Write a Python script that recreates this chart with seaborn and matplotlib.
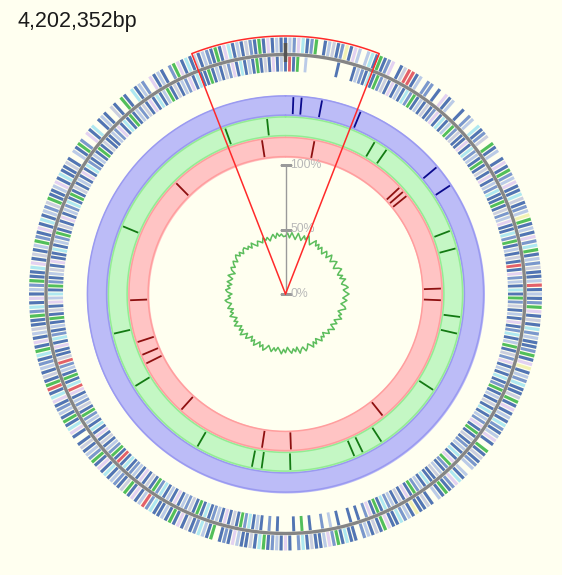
import numpy as np
import matplotlib
matplotlib.use("Agg")
import matplotlib.pyplot as plt
import seaborn as sns

# ---------------------------------------------------------------- data
GENOME_LEN = 4202352
TITLE = "4,202,352bp"

# one character per degree of the genome, clockwise from the origin
# B/b/l/s: blue/grey shades, c: cyan, g: green, p: lavender, y: yellow, r: red, '.': none
FEATURES_OUTER = "".join([
    "BlbpcBbg.BlsBbyBpl.lcBgBbp.Bsr",
    "rBl.bb.B.pBl..B.bl.cBbs.gBl.Bp",
    "BgblpBBcsBblygBlBpbcgBlbsBBlrB",
    "lBbgpBsBcblBBbgBpyBlbcBBsgBpBl",
    "BcbBlpB.gBsBbl.lBcpbBgBl.BsBBy",
    "BlbcBBpgBsBlb.BBcBgbplBBsBcb.B",
    "pBlbBgcBsBBlpBbB.gBlcbBsBpBgBl",
    "BBcbrlBpBgsBblBcBpBgblBsB.BpcB",
    "gBlbBpcBrgBsBlbBcgBpBlsBBgbcBp",
    "BlbgBBcpBsBlgbBpBcBlbsgBBlpBcB",
    "BsB.lBgb.pBc.BlB.sB.gB.cBlb.pB",
    "lB.bgpBcBsBlbBgBpcBlBsbBgBpBlB",
])
FEATURES_INNER = "".join([
    "BrBg.l.......B...BlbBcBgbsBpBl",
    "BcbgBlBsBbpBcBlgbsBBpBcblBgBsB",
    "pBlbcBBgBsblpBBcbgBlBsBrBpblBc",
    "BgbsBlBpBbcBlgBsbpBlBcBbgBlBsB",
    "cBlbpBgBsBblBcBpgbBlsBBcBlbgBp",
    "BsBlbcBgBpb.B.B..B.l.b..B.g.B.",
    "..B.b.BlBcbgBsBpBlbBcBgBsblBpB",
    "lBcbgBsBpBlbBcBrBgblBsBpBcBlbg",
    "BsblBprcBgBlbrsBBpBcbBlBgBsBpl",
    "cBgbBlsBpBBcBlbgBsBpBlbcBgBsBl",
    "BpBcbBlBgBsBBlbpBcBgBlbsBpBcBl",
    "gBsBlbpBcBBgBlBsbpBcBlBgBsBpBl",
])

# marker positions (kb) on the three ring tracks
RING_BLUE_KB = [26.8, 54.9, 124.9, 261.5, 583.7, 660.7]
RING_GREEN_KB = [354.9, 408.6, 805.4, 875.5, 1138.1, 1202.3, 1435.8, 1715.9,
                 1797.6, 1832.7, 2082.5, 2192.2, 2229.6, 2451.4, 2784.0,
                 3000.0, 3415.6, 3968.8, 4132.2]
RING_RED_KB = [124.9, 548.6, 572.0, 595.3, 1027.2, 1077.4, 1650.6, 2077.8,
               2202.7, 2591.4, 2842.4, 2883.2, 2941.6, 3124.9, 3681.7, 4100.8]

# GC content (%) in 2-degree windows, clockwise from the origin
GC_PERCENT = [
    44.9, 47.3, 43.6, 47.8, 45.2, 42.9, 48.1, 45.6, 43.2, 47.4,
    44.8, 48.6, 45.3, 42.4, 45.1, 47.7, 43.9, 46.4, 42.8, 45.9,
    43.6, 41.8, 46.0, 44.5, 42.1, 46.9, 45.0, 42.6, 45.3, 47.1,
    43.9, 42.0, 45.8, 47.6, 44.7, 42.9, 46.5, 43.8, 48.0, 45.4,
    44.1, 47.2, 48.9, 44.9, 46.6, 49.3, 46.8, 44.5, 47.9, 45.8,
    43.6, 46.9, 48.1, 44.9, 42.8, 46.2, 44.4, 47.6, 45.0, 42.7,
    46.0, 43.9, 42.3, 46.8, 44.6, 42.9, 45.7, 43.7, 41.5, 44.8,
    42.9, 46.1, 43.8, 41.7, 45.5, 42.8, 46.6, 44.1, 42.3, 45.2,
    46.9, 43.2, 44.6, 47.3, 42.1, 45.4, 42.9, 46.2, 44.0, 41.4,
    45.5, 42.9, 46.5, 43.8, 41.8, 44.9, 42.6, 46.0, 43.9, 41.9,
    44.9, 47.0, 43.1, 45.6, 42.0, 44.6, 46.8, 42.8, 45.3, 41.6,
    44.3, 46.2, 42.4, 45.0, 47.2, 42.9, 45.5, 41.9, 44.5, 46.6,
    42.7, 45.2, 41.8, 44.0, 46.4, 43.0, 44.9, 42.0, 46.1, 44.3,
    42.5, 45.6, 47.1, 42.8, 44.5, 41.5, 45.1, 46.5, 43.2, 45.4,
    42.3, 46.2, 44.0, 42.6, 46.8, 44.7, 42.1, 45.6, 47.0, 44.1,
    46.4, 47.9, 44.6, 47.5, 49.1, 45.8, 48.3, 45.0, 47.4, 48.2,
    45.1, 47.0, 44.0, 47.6, 44.9, 42.9, 46.4, 45.1, 43.4, 46.9,
    44.3, 46.1, 42.8, 45.3, 47.2, 43.9, 47.6, 45.0, 46.6, 44.5,
]
GC_TICKS = [0, 50, 100]
GC_TICK_LABELS = ["0%", "50%", "100%"]

# zoom window on the map (degrees either side of the origin)
ZOOM_HALF_DEG = 21.3

# ---------------------------------------------------------------- style
FEATURE_COLORS = {
    "B": "#3f66ad", "b": "#6d8dc9", "l": "#b4c6e6", "s": "#c6cade",
    "c": "#a6e6f0", "g": "#3fb84a", "p": "#e0cdf2", "y": "#f1f1ad",
    "r": "#e0505a",
}
BG = "#fffff0"

sns.set_theme(style="white")
plt.rcParams["font.family"] = ["Liberation Sans", "DejaVu Sans"]

W, H = 562, 575
CX, CY = 285.5, 294.0          # centre of the map in pixels
RMAX = 270.0

fig = plt.figure(figsize=(W / 100, H / 100), dpi=100, facecolor=BG)
ax = fig.add_axes([(CX - RMAX) / W, (H - CY - RMAX) / H, 2 * RMAX / W, 2 * RMAX / H],
                  projection="polar")
ax.set_theta_zero_location("N")
ax.set_theta_direction(-1)
ax.set_rlim(0, RMAX)
ax.set_axis_off()


def kb_to_theta(kb):
    return np.asarray(kb, dtype=float) * 1000.0 / GENOME_LEN * 2 * np.pi


full = np.linspace(0, 2 * np.pi, 721)

# ---------------------------------------------------------------- ring tracks
tracks = [
    (178.0, 199.0, "#bcbcf7", "#9a9af0", "#0a0a8c", RING_BLUE_KB),
    (157.5, 178.0, "#c4f7c4", "#93ec93", "#137a13", RING_GREEN_KB),
    (136.5, 157.5, "#ffc4c4", "#ff9e9e", "#8e1010", RING_RED_KB),
]
for r_in, r_out, fill, edge, mark, kb in tracks:
    ax.fill_between(full, r_in, r_out, color=fill, lw=0, zorder=1)
    ax.plot(full, np.full_like(full, r_in + 0.9), color=edge, lw=1.1, zorder=2)
    ax.plot(full, np.full_like(full, r_out - 0.9), color=edge, lw=1.1, zorder=2)
    ax.vlines(kb_to_theta(kb), r_in + 2.0, r_out - 2.0, colors=mark, lw=1.3, zorder=3)

# ---------------------------------------------------------------- gene features
for codes, r0, r1 in [(FEATURES_OUTER, 241.5, 256.5), (FEATURES_INNER, 222.5, 237.5)]:
    n = len(codes)
    idx = [i for i, ch in enumerate(codes) if ch != "."]
    theta = np.array(idx) / n * 2 * np.pi
    cols = [FEATURE_COLORS[codes[i]] for i in idx]
    ax.bar(theta, r1 - r0, width=np.deg2rad(0.72), bottom=r0, color=cols,
           linewidth=0, alpha=0.9, zorder=3)

# backbone and origin marker
ax.plot(full, np.full_like(full, 239.5), color="#858585", lw=2.4, zorder=4)
ax.bar(0, 19, width=3.5 / 240, bottom=232, color="#555555", linewidth=0, zorder=5)

# ---------------------------------------------------------------- GC content
gc = np.asarray(GC_PERCENT, dtype=float)
gc_theta = np.arange(len(gc)) / len(gc) * 2 * np.pi
gc_theta = np.append(gc_theta, 2 * np.pi)
gc_r = np.append(gc, gc[0]) * 1.29
sns.lineplot(x=gc_theta, y=gc_r, ax=ax, color="#5cbd5c", lw=1.1, sort=False,
             estimator=None, zorder=4)

# GC scale
ax.vlines(0, 0, 129, colors="#9a9a9a", lw=1.0, zorder=5)
tick_r = np.asarray(GC_TICKS, dtype=float) * 1.29
ax.plot(np.zeros_like(tick_r), tick_r, ls="none", marker="_", ms=8, mew=1.0,
        color="#9a9a9a", zorder=5)
for r, lab in zip(tick_r, GC_TICK_LABELS):
    ax.annotate(lab, xy=(0, r), xytext=(3.5, 0), textcoords="offset points",
                ha="left", va="center", fontsize=8.8, color="#b8b8b8", zorder=6)

# ---------------------------------------------------------------- zoom wedge
arc = np.deg2rad(np.linspace(-ZOOM_HALF_DEG, ZOOM_HALF_DEG, 120))
wedge_t = np.concatenate([[arc[0]], arc, [arc[-1]]])
wedge_r = np.concatenate([[0], np.full_like(arc, 258.0), [0]])
ax.plot(wedge_t, wedge_r, color="#ff2a2a", lw=1.1, zorder=7)

fig.text(17 / W, 1 - 22 / H, TITLE, ha="left", va="center", fontsize=15.5,
         color="#1a1a1a")

fig.savefig("out.png", dpi=100, facecolor=BG)
